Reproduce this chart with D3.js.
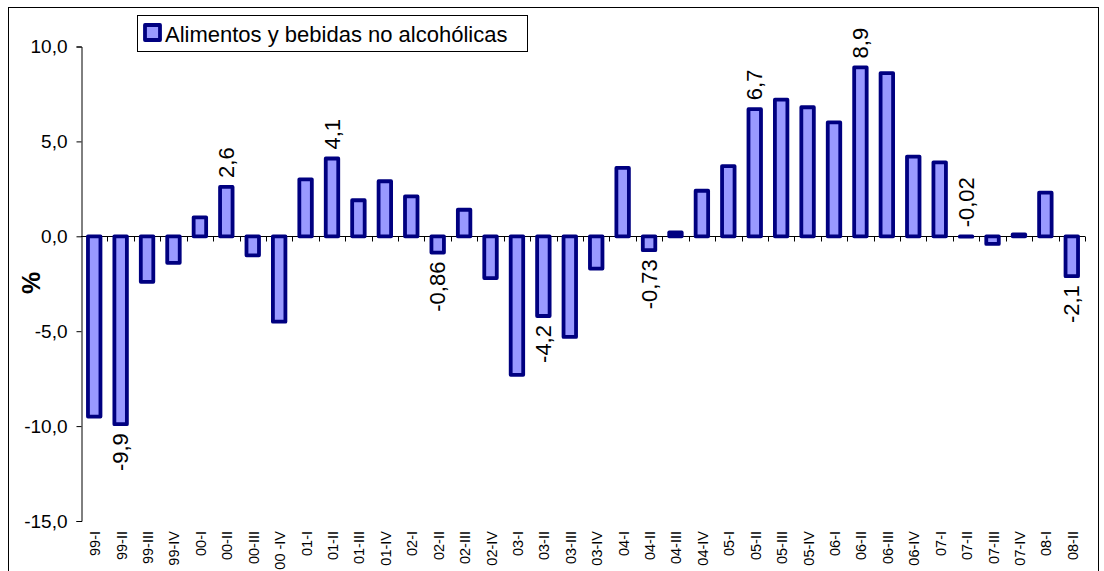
<!DOCTYPE html>
<html>
<head>
<meta charset="utf-8">
<script src="https://cdn.jsdelivr.net/npm/d3@7"></script>
<style>
  html, body { margin: 0; padding: 0; background: #fff; }
  svg { display: block; font-family: "Liberation Sans", Arial, sans-serif; }
</style>
</head>
<body>
<svg id="chart" width="1104" height="571"></svg>
<script>
// Quarterly variation (%) — food and non-alcoholic beverages
const categories = [
  "99-I", "99-II", "99-III", "99-IV",
  "00-I", "00-II", "00-III", "00 -IV",
  "01-I", "01-II", "01-III", "01-IV",
  "02-I", "02-II", "02-III", "02-IV",
  "03-I", "03-II", "03-III", "03-IV",
  "04-I", "04-II", "04-III", "04-IV",
  "05-I", "05-II", "05-III", "05-IV",
  "06-I", "06-II", "06-III", "06-IV",
  "07-I", "07-II", "07-III", "07-IV",
  "08-I", "08-II"
];
const values = [
  -9.5, -9.9, -2.4, -1.4,
  1.0, 2.6, -1.0, -4.5,
  3.0, 4.1, 1.9, 2.9,
  2.1, -0.86, 1.4, -2.2,
  -7.3, -4.2, -5.3, -1.7,
  3.6, -0.73, 0.2, 2.4,
  3.7, 6.7, 7.2, 6.8,
  6.0, 8.9, 8.6, 4.2,
  3.9, -0.02, -0.4, 0.1,
  2.3, -2.1
];
const labeledCategories = ["99-II", "00-II", "01-II", "02-II", "03-II", "04-II", "05-II", "06-II", "07-II", "08-II"];
const yTicks = [-15, -10, -5, 0, 5, 10];
const seriesName = "Alimentos y bebidas no alcohólicas";
const yTitle = "%";

const data = categories.map((c, i) => ({ cat: c, value: values[i] }));
const fmt = v => String(v).replace(".", ",");
const fmtTick = v => d3.format(".1f")(v).replace(".", ",").replace("−", "-");

const NAVY = "#000080", FILL = "#9999FF";

const svg = d3.select("#chart");

// outer frame
svg.append("rect")
  .attr("x", 8.5).attr("y", 7.5)
  .attr("width", 1090).attr("height", 600)
  .attr("fill", "none").attr("stroke", "#000").attr("stroke-width", 1);

const x = d3.scaleBand().domain(categories).range([81, 1085]).padding(0);
const y = d3.scaleLinear().domain([-15, 10]).range([521, 46.5]);
const y0 = Math.round(y(0)) + 0.5;

// y axis
const yAxis = svg.append("g").attr("transform", "translate(81.5,0)")
  .call(d3.axisLeft(y).tickValues(yTicks).tickFormat(fmtTick).tickSize(5).tickPadding(9));
yAxis.select(".domain").attr("stroke", "#000");
yAxis.selectAll(".tick line").attr("stroke", "#000");
yAxis.selectAll(".tick text")
  .attr("font-size", 19).attr("fill", "#000")
  .attr("font-family", "Liberation Sans, Arial, sans-serif");

// category axis along zero
svg.append("line")
  .attr("x1", x.range()[0]).attr("x2", x.range()[1])
  .attr("y1", y0).attr("y2", y0)
  .attr("stroke", "#000").attr("stroke-width", 1);
const bounds = categories.map(c => x(c)).concat([x.range()[1]]);
svg.append("g").selectAll("line").data(bounds.slice(1)).join("line")
  .attr("x1", d => Math.round(d) + 0.5).attr("x2", d => Math.round(d) + 0.5)
  .attr("y1", y0).attr("y2", y0 + 5)
  .attr("stroke", "#000");

// category labels
svg.append("g").selectAll("text").data(categories).join("text")
  .attr("transform", d => `translate(${x(d) + x.bandwidth() / 2 + 6},531) rotate(-90)`)
  .attr("text-anchor", "end")
  .attr("font-size", 14.5)
  .attr("fill", "#000")
  .text(d => d);

// bars
const barW = 12.5;
svg.append("g").selectAll("rect").data(data).join("rect")
  .attr("x", d => x(d.cat) + x.bandwidth() / 2 - barW / 2)
  .attr("width", barW)
  .attr("y", d => Math.min(y(d.value), y(0)))
  .attr("height", d => Math.abs(y(d.value) - y(0)))
  .attr("fill", FILL)
  .attr("stroke", NAVY)
  .attr("stroke-width", 3.8)
  .attr("stroke-linejoin", "round");

// value labels on the second quarter of each year
const gap = 9;
const isFlat = d => Math.abs(y(d.value) - y(0)) < 2;
svg.append("g").selectAll("text")
  .data(data.filter(d => labeledCategories.includes(d.cat)))
  .join("text")
  .attr("transform", d => {
    const cx = x(d.cat) + x.bandwidth() / 2 + 7.5;
    const above = d.value >= 0 || isFlat(d);
    const ty = above ? y(Math.max(d.value, 0)) - gap : y(d.value) + gap;
    return `translate(${cx},${ty}) rotate(-90)`;
  })
  .attr("text-anchor", d => (d.value >= 0 || isFlat(d)) ? "start" : "end")
  .attr("font-size", 22)
  .attr("fill", "#000")
  .text(d => fmt(d.value));

// y title
svg.append("text")
  .attr("transform", "translate(40,283) rotate(-90)")
  .attr("text-anchor", "middle")
  .attr("font-size", 25)
  .attr("font-weight", "bold")
  .attr("fill", "#000")
  .text(yTitle);

// legend
const lg = svg.append("g");
lg.append("rect")
  .attr("x", 137.5).attr("y", 15.5).attr("width", 390).attr("height", 36)
  .attr("fill", "#fff").attr("stroke", "#000").attr("stroke-width", 1);
lg.append("rect")
  .attr("x", 145).attr("y", 25).attr("width", 15).attr("height", 15)
  .attr("fill", FILL).attr("stroke", NAVY).attr("stroke-width", 3.8)
  .attr("stroke-linejoin", "round");
lg.append("text")
  .attr("x", 165).attr("y", 41.5)
  .attr("font-size", 22)
  .attr("fill", "#000")
  .text(seriesName);
</script>
</body>
</html>
